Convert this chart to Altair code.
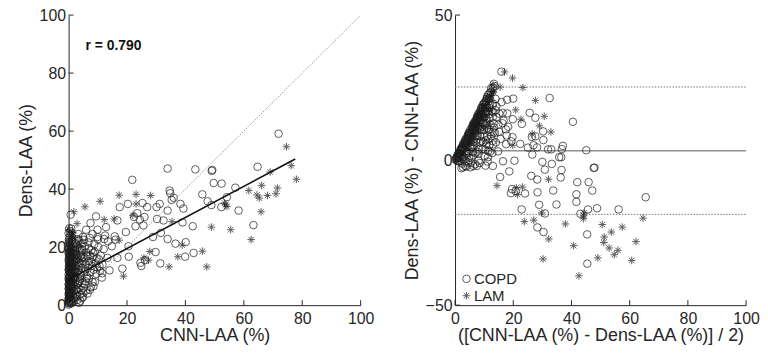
import altair as alt
import pandas as pd

# ---------------- data ----------------
copd_cnn = [
    71.9, 64.7, 57.1, 58.2, 63.3, 49.0, 49.2, 43.4, 33.9, 49.7, 52.4, 45.8, 47.6, 48.9, 52.3, 54.2,
    34.6, 34.8, 35.3, 36.0, 38.3, 39.3, 33.9, 31.2, 30.1, 42.5, 39.0, 32.5, 30.3, 31.6, 28.9, 33.9,
    36.6, 40.1, 39.9, 42.8, 29.8, 31.4, 24.6, 24.9, 26.2, 20.6, 18.4, 21.8, 25.3, 20.3, 17.5, 23.5,
    22.4, 24.4, 25.6, 26.0, 26.9, 22.9, 19.6, 16.7, 12.8, 13.5, 15.8, 16.1, 14.8, 20.5, 16.7, 13.3,
    9.4, 9.9, 7.5, 6.0, 8.2, 9.9, 12.2, 0.7, 0.9, 11.5, 14.0,
    0.0, 0.1, 0.2, 0.0, 0.3, 0.1, 0.4, 0.2, 0.0, 0.5, 0.2, 0.3, 0.1, 0.6, 0.2, 0.4, 0.0, 0.3, 0.7,
    0.1, 0.5, 0.2, 0.4, 0.0, 0.6, 0.3, 0.1, 0.5, 0.2, 0.7, 0.4, 0.1, 0.3, 0.6, 0.2, 0.5, 0.0, 0.4,
    0.2, 0.6, 0.3, 0.1, 0.5, 0.2, 0.8, 0.6, 0.9, 0.7, 0.8, 0.9,
    1.0, 1.2, 1.5, 1.1, 1.8, 1.3, 2.0, 1.6, 1.0, 2.3, 1.4, 1.9, 1.1, 2.2, 1.7, 1.2, 2.4, 1.5, 2.0,
    1.3, 1.8, 2.5, 1.0, 2.1, 1.6, 2.4, 1.2, 1.9, 2.3, 2.5, 1.4, 2.0, 1.7, 2.2, 1.3,
    2.7, 3.0, 3.4, 2.9, 3.8, 3.2, 4.2, 2.8, 3.6, 4.5, 3.1, 4.0, 4.8, 3.3, 4.3, 3.7, 4.6, 2.9, 4.1,
    3.5, 4.9, 3.0, 4.4, 4.7, 3.9, 2.6, 4.0, 3.4, 4.5, 2.8,
    5.2, 5.8, 6.3, 5.5, 7.0, 6.6, 7.5, 5.9, 8.0, 6.9, 8.6, 5.4, 7.3, 9.2, 6.1, 8.3, 9.8, 7.8, 5.6,
    10.4, 6.8, 9.0, 11.0, 8.8, 7.2, 10.2, 11.6, 5.0, 6.0, 7.6, 5.3, 9.5, 8.2, 10.8, 12.0,
    0.1, 0.3, 0.0, 0.2, 0.4, 0.1, 0.3, 0.0, 0.5, 0.1, 0.3, 0.0, 0.2, 0.4, 0.0, 0.3, 0.1, 0.5, 0.2,
    0.0, 0.4, 0.1, 0.3, 0.0, 0.2, 0.4, 0.1, 0.3, 0.0, 0.6,
    0.8, 0.9, 0.7, 1.0, 0.8, 0.9, 0.7, 1.0, 0.8, 0.9,
    1.2, 1.5, 1.1, 1.8, 1.4, 2.1, 1.6, 1.1, 2.3, 1.5,
    2.8, 3.3, 3.9, 2.6, 3.5, 4.4, 2.7, 3.8, 4.9, 3.2,
    5.5, 6.2, 7.1, 5.7, 6.4, 8.4, 9.6, 6.9, 10.6, 7.8,
    4.0, 5.0, 6.5, 8.5, 3.6, 7.3, 9.0, 11.4, 10.0, 12.5,
]
copd_dens = [
    59.1, 47.7, 40.5, 32.6, 27.6, 46.3, 46.6, 46.8, 47.1, 42.1, 41.9, 38.2, 35.8, 34.5, 33.8, 37.2,
    39.5, 38.6, 36.3, 37.0, 34.9, 33.3, 32.6, 34.9, 33.8, 27.2, 28.5, 29.2, 29.7, 24.9, 23.5, 22.8,
    21.2, 21.7, 16.7, 18.0, 18.3, 14.4, 14.6, 13.5, 15.5, 16.7, 12.6, 43.2, 35.2, 34.9, 33.8, 31.7,
    30.4, 29.5, 27.5, 30.4, 33.8, 27.2, 25.2, 29.2, 26.9, 22.0, 23.7, 22.6, 20.3, 20.3, 16.3, 16.3,
    30.6, 26.0, 28.3, 26.0, 24.5, 23.5, 22.8, 31.2, 26.4, 11.0, 12.0,
    0.2, 0.6, 1.1, 1.5, 1.9, 2.4, 2.8, 3.3, 3.7, 4.1, 4.6, 5.0, 5.5, 5.9, 6.3, 6.8, 7.2, 7.7, 8.1,
    8.6, 9.0, 9.5, 10.0, 10.5, 11.0, 11.5, 12.0, 12.6, 13.1, 13.7, 14.2, 14.8, 15.4, 16.0, 16.7, 17.3, 18.0, 18.8,
    19.6, 20.5, 21.5, 22.6, 24.0, 26.5, 0.5, 1.2, 2.2, 3.0, 4.4, 6.1,
    0.9, 2.0, 3.1, 4.0, 4.8, 5.7, 6.5, 7.3, 8.0, 8.6, 9.3, 10.0, 10.8, 11.4, 12.1, 12.9, 13.5, 14.3, 15.0,
    15.8, 16.6, 17.3, 18.1, 19.0, 20.2, 21.3, 22.4, 1.5, 3.5, 5.5, 1.0, 2.6, 17.8, 9.6, 11.7,
    3.0, 4.6, 6.0, 7.4, 8.3, 9.5, 10.3, 11.2, 12.0, 12.8, 13.7, 14.5, 15.2, 16.1, 17.0, 18.0, 19.1, 19.8, 21.0,
    22.4, 23.5, 1.8, 5.2, 7.6, 3.6, 15.5, 9.0, 24.5, 2.5, 20.8,
    6.0, 8.2, 10.0, 11.6, 9.2, 12.8, 11.3, 14.0, 13.5, 15.2, 12.2, 16.4, 17.0, 14.4, 18.2, 16.6, 13.0, 19.0, 20.3,
    15.8, 21.6, 18.4, 17.1, 21.0, 23.2, 20.0, 14.0, 4.2, 5.0, 6.2, 22.5, 10.8, 8.0, 11.8, 19.3,
    0.9, 1.4, 2.1, 2.6, 3.5, 4.3, 4.8, 5.7, 6.6, 7.0, 8.3, 9.2, 9.8, 11.2, 12.3, 12.8, 13.4, 14.5, 15.1,
    15.8, 16.4, 17.6, 18.3, 19.1, 20.0, 21.0, 21.8, 23.3, 24.8, 25.5,
    7.0, 8.4, 9.8, 11.2, 12.4, 13.9, 15.2, 16.3, 18.5, 19.8,
    6.3, 8.8, 10.2, 11.9, 13.0, 13.9, 15.5, 16.9, 18.6, 19.4,
    5.2, 7.8, 11.0, 12.5, 14.9, 16.3, 17.5, 19.6, 21.4, 22.8,
    7.2, 9.1, 13.9, 12.3, 16.9, 18.0, 16.2, 19.6, 13.4, 15.0,
    1.5, 2.8, 4.0, 6.5, 0.8, 5.3, 8.0, 9.5, 22.7, 24.0,
]
lam_cnn = [
    74.6, 76.2, 78.0, 69.0, 66.1, 61.7, 64.5, 65.3, 68.1, 71.0, 71.5, 65.9, 62.5, 55.5, 48.9, 45.8,
    47.3, 53.4, 54.2, 53.8, 38.9, 37.4, 34.4, 35.4, 28.1, 23.1, 17.3, 10.8, 15.6, 12.2, 5.6, 1.8,
    2.9, 1.5, 1.2, 27.8, 25.8, 27.4, 18.8, 23.1, 22.0, 17.3,
    0.2, 0.5, 0.3, 0.1, 0.6, 0.4, 0.8, 0.2, 0.5, 1.0, 0.7, 1.3, 0.4, 0.9, 1.6, 2.0, 1.2, 2.5,
    3.0, 0.3, 1.8, 0.6, 3.5, 4.2, 2.2, 5.5, 0.1,
]
lam_dens = [
    54.6, 48.1, 43.4, 45.9, 41.3, 39.5, 38.0, 36.9, 37.8, 38.4, 40.4, 32.2, 22.6, 26.0, 26.9, 18.6,
    13.2, 35.2, 34.0, 34.6, 20.7, 16.7, 13.2, 28.8, 37.8, 38.2, 37.9, 35.8, 29.7, 29.5, 33.9, 32.2,
    28.1, 24.9, 23.6, 18.5, 16.3, 15.5, 10.0, 34.9, 31.0, 22.4,
    12.0, 13.5, 15.0, 16.2, 17.5, 18.6, 20.0, 21.2, 22.0, 23.0, 24.2, 25.0, 8.5, 10.5, 14.0, 16.5, 19.2, 12.5,
    17.8, 5.5, 9.0, 3.2, 20.5, 15.4, 22.8, 18.0, 26.0,
]
groups = ["COPD", "LAM"]

identity_x = [0, 100]
identity_y = [0, 100]
fit_x = [0, 77.6]
fit_y = [8.8, 50.4]
r_label = ["r = 0.790"]
r_x = [5.8]
r_y = [89.5]

ba_mean = [3.2]
ba_limits = [25.2, -18.7]

left_xticks = [0, 20, 40, 60, 80, 100]
left_yticks = [0, 20, 40, 60, 80, 100]
right_xticks = [0, 20, 40, 60, 80, 100]
right_yticks = [-50, 0, 50]

# ---------------- tables ----------------
pts = pd.DataFrame({
    "cnn": copd_cnn + lam_cnn,
    "dens": copd_dens + lam_dens,
    "group": [groups[0]] * len(copd_cnn) + [groups[1]] * len(lam_cnn),
})
pts["avg"] = (pts["cnn"] + pts["dens"]) / 2
pts["diff"] = pts["dens"] - pts["cnn"]

identity_df = pd.DataFrame({"x": identity_x, "y": identity_y})
fit_df = pd.DataFrame({"x": fit_x, "y": fit_y})
r_df = pd.DataFrame({"label": r_label, "x": r_x, "y": r_y})
mean_df = pd.DataFrame({"y": ba_mean, "x": [0], "x2": [100]})
lim_df = pd.DataFrame({"y": ba_limits, "x": [0, 0], "x2": [100, 100]})

TL = 1.7  # inward tick length in data units
lxt = pd.DataFrame({"x": left_xticks, "y": [0] * 6, "y2": [TL] * 6})
lyt = pd.DataFrame({"y": left_yticks, "x": [0] * 6, "x2": [TL] * 6})
rxt = pd.DataFrame({"x": right_xticks, "y": [-50] * 6, "y2": [-50 + TL] * 6})
ryt = pd.DataFrame({"y": right_yticks, "x": [0] * 3, "x2": [TL] * 3})

# ---------------- styling ----------------
FONT = "Liberation Sans"
INK = "#262626"
MK = "#1a1a1a"
AST = "M-1,0L1,0M0,-1L0,1M-0.72,-0.72L0.72,0.72M-0.72,0.72L0.72,-0.72"
shape_scale = alt.Scale(domain=groups, range=["circle", AST])


def axis(title, values, lp=3, tp=4):
    return alt.Axis(
        title=title, values=values, grid=False, ticks=False,
        domainColor=INK, domainWidth=1, labelColor=INK, titleColor=INK,
        labelFont=FONT, titleFont=FONT, labelFontSize=16, titleFontSize=18,
        titleFontWeight="normal", labelPadding=lp, titlePadding=tp,
        labelFlush=False, labelOverlap=False,
    )


lx = alt.Scale(domain=[0, 100], nice=False, zero=False)
ly = alt.Scale(domain=[0, 100], nice=False, zero=False)
rx = alt.Scale(domain=[0, 100], nice=False, zero=False)
ry = alt.Scale(domain=[-50, 50], nice=False, zero=False)

PH = 292  # plot height

# ----- left panel -----
left_points = alt.Chart(pts).mark_point(filled=False, strokeWidth=1, color=MK, size=58).encode(
    x=alt.X("cnn:Q", scale=lx, axis=axis("CNN-LAA (%)", left_xticks, lp=5, tp=1)),
    y=alt.Y("dens:Q", scale=ly, axis=axis("Dens-LAA (%)", left_yticks)),
    shape=alt.Shape("group:N", scale=shape_scale, legend=None),
)
left_identity = alt.Chart(identity_df).mark_line(color="#8a8a8a", strokeWidth=0.9, strokeDash=[1.5, 1.5]).encode(
    x=alt.X("x:Q", scale=lx), y=alt.Y("y:Q", scale=ly))
left_fit = alt.Chart(fit_df).mark_line(color="#111111", strokeWidth=1.6).encode(
    x=alt.X("x:Q", scale=lx), y=alt.Y("y:Q", scale=ly))
left_r = alt.Chart(r_df).mark_text(align="left", baseline="middle", font=FONT, fontSize=14,
                                   fontWeight="bold", color="#111111").encode(
    x=alt.X("x:Q", scale=lx), y=alt.Y("y:Q", scale=ly), text="label:N")
left_xt = alt.Chart(lxt).mark_rule(color=INK, strokeWidth=1).encode(
    x=alt.X("x:Q", scale=lx), y=alt.Y("y:Q", scale=ly), y2="y2:Q")
left_yt = alt.Chart(lyt).mark_rule(color=INK, strokeWidth=1).encode(
    y=alt.Y("y:Q", scale=ly), x=alt.X("x:Q", scale=lx), x2="x2:Q")

left = alt.layer(left_points, left_identity, left_fit, left_r, left_xt, left_yt).properties(
    width=294, height=PH)

# ----- right panel -----
right_points = alt.Chart(pts).mark_point(filled=False, strokeWidth=1, color=MK, size=58).encode(
    x=alt.X("avg:Q", scale=rx, axis=axis("([CNN-LAA (%) - Dens-LAA (%)] / 2)", right_xticks, lp=5, tp=1)),
    y=alt.Y("diff:Q", scale=ry, axis=axis("Dens-LAA (%) - CNN-LAA (%)", right_yticks)),
    shape=alt.Shape("group:N", scale=shape_scale, legend=alt.Legend(
        title=None, orient="none", legendX=4, legendY=258, labelFont=FONT, labelFontSize=15,
        labelColor=INK, symbolStrokeColor=MK, symbolStrokeWidth=1, symbolSize=58,
        symbolFillColor="transparent", rowPadding=1, labelOffset=0, padding=0)),
)
right_mean = alt.Chart(mean_df).mark_rule(color="#555555", strokeWidth=1).encode(
    y=alt.Y("y:Q", scale=ry), x=alt.X("x:Q", scale=rx), x2="x2:Q")
right_lim = alt.Chart(lim_df).mark_rule(color="#777777", strokeWidth=1, strokeDash=[1.5, 1.5]).encode(
    y=alt.Y("y:Q", scale=ry), x=alt.X("x:Q", scale=rx), x2="x2:Q")
right_xt = alt.Chart(rxt).mark_rule(color=INK, strokeWidth=1).encode(
    x=alt.X("x:Q", scale=rx), y=alt.Y("y:Q", scale=ry), y2="y2:Q")
right_yt = alt.Chart(ryt).mark_rule(color=INK, strokeWidth=1).encode(
    y=alt.Y("y:Q", scale=ry), x=alt.X("x:Q", scale=rx), x2="x2:Q")

right = alt.layer(right_lim, right_mean, right_points, right_xt, right_yt).properties(
    width=293, height=PH)

chart = alt.hconcat(left, right, spacing=28).resolve_scale(
    shape="independent").resolve_legend(shape="independent").configure_view(
    stroke=None).properties(padding={"left": 9, "top": -2, "right": 0, "bottom": 0}, background="white")

chart.save("out.html", embed_options={"renderer": "svg", "actions": False})
